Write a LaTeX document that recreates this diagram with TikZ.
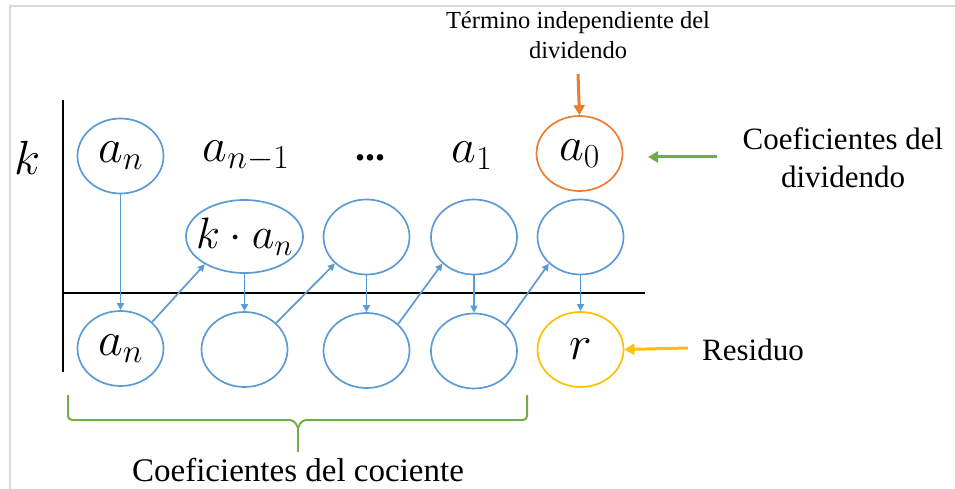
\RequirePackage{fix-cm}
\documentclass[tikz,border=0pt]{standalone}
\usepackage{fontspec}
\setmainfont{Liberation Serif}
\usetikzlibrary{shapes.geometric,arrows.meta}
\definecolor{cblue}{HTML}{5B9BD5}
\definecolor{corange}{HTML}{ED7D31}
\definecolor{cgreen}{HTML}{70AD47}
\definecolor{cyellow}{HTML}{FFC000}
\definecolor{cframe}{HTML}{D9D9D9}
\begin{document}
\begin{tikzpicture}[x=1pt,y=-1pt,
  ell/.style={ellipse,draw=cblue,line width=1.7pt,minimum width=86pt,minimum height=75pt,inner sep=0pt,font=\fontsize{48}{50}\selectfont},
  plain/.style={inner sep=0pt,font=\fontsize{48}{50}\selectfont},
  flow/.style={draw=cblue,line width=1.7pt,-{Triangle[length=7pt,width=7pt]}},
  callout/.style={line width=3pt,-{Triangle[length=10pt,width=11pt]}},
  lbl/.style={inner sep=0pt,align=center},
]
\useasboundingbox (0,0) rectangle (955,489);
% frame
\draw[cframe,line width=2pt] (10,489) -- (10,6) -- (955,6);
% axes
\draw[line width=2pt] (63,100) -- (63,372);
\draw[line width=2pt] (63,293) -- (645,293);
\node[plain] (k) at (28,158) {$k$};
% top row
\node[ell] (t1) at (120.5,156) {$a_n$};
\node[plain] (t2) at (246,156) {$a_{n-1}$};
\node[inner sep=0pt,font=\fontsize{40}{42}\selectfont\bfseries] (t3) at (370,158) {...};
\node[plain] (t4) at (472,156) {$a_1$};
\node[ell,draw=corange] (t5) at (579.5,153.5) {$a_0$};
% middle row
\node[ell,minimum width=117pt,minimum height=73pt,label={[font=\fontsize{44}{46}\selectfont,inner sep=0pt]center:$k\cdot a_n$}] (m1) at (244.5,236.5) {};
\node[ell] (m2) at (366.5,237) {};
\node[ell] (m3) at (474,237) {};
\node[ell] (m4) at (580.5,237) {};
% bottom row
\node[ell] (b1) at (120.5,348.5) {$a_n$};
\node[ell] (b2) at (244.5,349.5) {};
\node[ell] (b3) at (366.5,350.5) {};
\node[ell] (b4) at (474,351) {};
\node[ell,draw=cyellow] (b5) at (580.5,349.5) {$r$};
% flow arrows
\draw[flow] (t1.south) -- (b1.north);
\draw[flow] (b1.40) -- (m1.215);
\draw[flow] (m1.south) -- (b2.north);
\draw[flow] (b2.40) -- (m2.220);
\draw[flow] (m2.south) -- (b3.north);
\draw[flow] (b3.40) -- (m3.220);
\draw[flow] (m3.south) -- (b4.north);
\draw[flow] (b4.40) -- (m4.220);
\draw[flow] (m4.south) -- (b5.north);
% labels
\node[lbl,font=\fontsize{24.5}{30}\selectfont] (ti) at (578,35) {Término independiente del\\dividendo};
\coordinate (tiarrow) at (578,74);
\draw[callout,corange] (tiarrow) -- (t5.north);
\node[lbl,font=\fontsize{31}{38}\selectfont] (cd) at (843,158) {Coeficientes del\\dividendo};
\coordinate (cdarrow) at (717,157);
\draw[callout,cgreen] (cdarrow) -- (648,157);
\node[lbl,font=\fontsize{31}{38}\selectfont,anchor=west] (res) at (702,350) {Residuo};
\coordinate (resarrow) at (688,348);
\draw[callout,cyellow] (resarrow) -- (b5.east);
% brace
\draw[cgreen,line width=2pt,rounded corners=4pt] (68,395) -- (68,420) -- (294,420) -- (298,428);
\draw[cgreen,line width=2pt,rounded corners=4pt] (527,395) -- (527,420) -- (302,420) -- (298,428);
\coordinate (bracetip) at (298,452);
\draw[cgreen,line width=2pt] (298,427) -- (bracetip);
\node[lbl,font=\fontsize{33}{38}\selectfont] (cc) at (298,470) {Coeficientes del cociente};
\end{tikzpicture}
\end{document}
